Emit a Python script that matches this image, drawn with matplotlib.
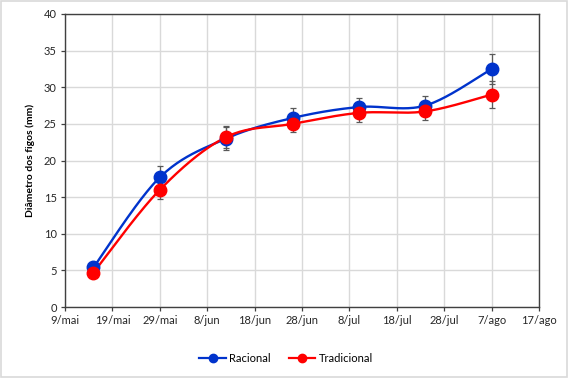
import numpy as np
import matplotlib
matplotlib.use("Agg")
import matplotlib.pyplot as plt
import matplotlib.dates as mdates
from matplotlib.lines import Line2D
import datetime as dt

plt.rcParams['font.family'] = ['Lato', 'DejaVu Sans']

# ---- data ----
dates = ["2020-05-15", "2020-05-29", "2020-06-12", "2020-06-26",
         "2020-07-10", "2020-07-24", "2020-08-07"]
racional = [5.4, 17.7, 23.0, 25.8, 27.3, 27.5, 32.5]
racional_err = [0.5, 1.6, 1.6, 1.3, 1.3, 1.3, 2.0]
tradicional = [4.7, 16.0, 23.2, 25.0, 26.5, 26.7, 29.0]
tradicional_err = [0.4, 1.3, 1.5, 1.1, 1.3, 1.2, 1.8]
tick_dates = ["2020-05-09", "2020-05-19", "2020-05-29", "2020-06-08",
              "2020-06-18", "2020-06-28", "2020-07-08", "2020-07-18",
              "2020-07-28", "2020-08-07", "2020-08-17"]
tick_labels = ["9/mai", "19/mai", "29/mai", "8/jun", "18/jun", "28/jun",
               "8/jul", "18/jul", "28/jul", "7/ago", "17/ago"]
series_names = ["Racional", "Tradicional"]
colors = ["#0033CC", "#FF0000"]

x = mdates.date2num([dt.date.fromisoformat(d) for d in dates])
ticks = mdates.date2num([dt.date.fromisoformat(d) for d in tick_dates])
xmin, xmax = ticks[0], ticks[-1]
ymin, ymax = 0, 40

fig = plt.figure(figsize=(5.68, 3.78), dpi=100)
ax = fig.add_axes([65/568, 1-307/378, (539-65)/568, (307-14)/378])


def smooth(xs, ys, sx, sy, n=40):
    # Catmull-Rom style smoothing (like spreadsheet "smoothed line"), in scaled space
    P = np.column_stack([np.asarray(xs) / sx, np.asarray(ys) / sy])
    out = []
    for i in range(len(P) - 1):
        p0 = P[i - 1] if i > 0 else P[i]
        p1 = P[i]
        p2 = P[i + 1]
        p3 = P[i + 2] if i + 2 < len(P) else P[i + 1]
        c1 = p1 + (p2 - p0) / 6.0
        c2 = p2 - (p3 - p1) / 6.0
        t = np.linspace(0, 1, n)[:, None]
        seg = ((1 - t) ** 3) * p1 + 3 * ((1 - t) ** 2) * t * c1 + 3 * (1 - t) * t ** 2 * c2 + t ** 3 * p2
        out.append(seg if i == 0 else seg[1:])
    S = np.vstack(out)
    return S[:, 0] * sx, S[:, 1] * sy

sx = (xmax - xmin) / 474.0
sy = (ymax - ymin) / 293.0

handles = []
for vals, errs, col, name in [(racional, racional_err, colors[0], series_names[0]),
                               (tradicional, tradicional_err, colors[1], series_names[1])]:
    xs, ys = smooth(x, vals, sx, sy)
    ax.plot(xs, ys, color=col, lw=1.7, zorder=3, solid_capstyle='round')
    ax.errorbar(x, vals, yerr=errs, fmt='none', ecolor='#595959', elinewidth=0.9,
                capsize=2.5, capthick=0.9, zorder=2)
    ax.plot(x, vals, 'o', color=col, ms=9, zorder=4)
    handles.append(Line2D([0], [0], color=col, lw=1.6, marker='o', ms=6))

ax.set_xlim(xmin, xmax)
ax.set_ylim(ymin, ymax)
ax.set_xticks(ticks)
ax.set_xticklabels(tick_labels)
ax.set_yticks(np.arange(0, 41, 5))
ax.grid(True, color='#D9D9D9', lw=1.0, zorder=0)
ax.set_axisbelow(True)
for s in ax.spines.values():
    s.set_color('#404040')
    s.set_linewidth(1.0)
ax.tick_params(axis='both', direction='out', length=3, width=0.9, color='#404040',
               labelsize=8, labelcolor='#262626', pad=3)
ax.set_ylabel("Diâmetro dos figos (mm)", fontsize=7.5, fontweight='bold', color='#000000',
              labelpad=6)

fig.legend(handles, series_names, loc='center', bbox_to_anchor=(286/568, 1-358.5/378),
           ncol=2, frameon=False, fontsize=8, handlelength=2.4, columnspacing=1.6,
           handletextpad=0.3)

fig.patches.append(plt.Rectangle((0.002, 0.003), 0.996, 0.994, transform=fig.transFigure,
                                 fill=False, edgecolor='#D9D9D9', lw=1.2))

fig.savefig("out.png", dpi=100)
